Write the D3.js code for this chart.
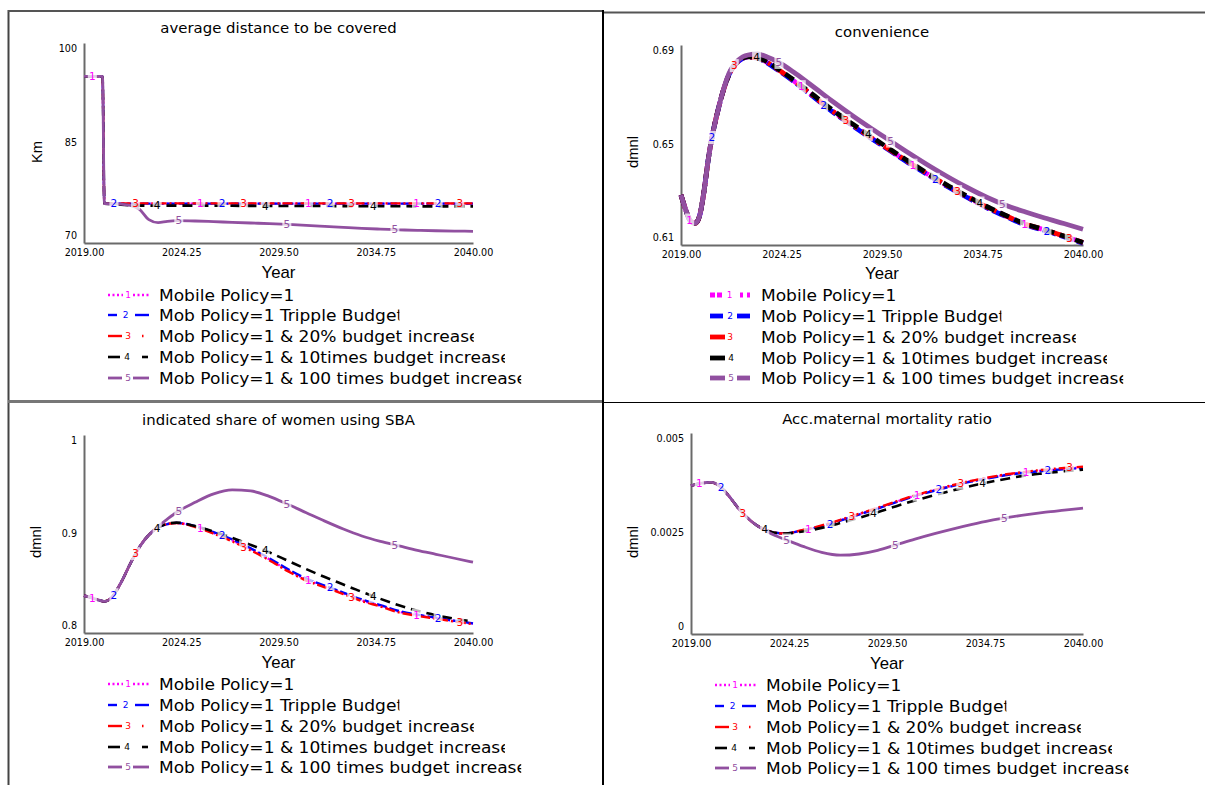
<!DOCTYPE html>
<html>
<head>
<meta charset="utf-8">
<script src="https://cdn.jsdelivr.net/npm/d3@7"></script>
<style>
  html, body { margin: 0; padding: 0; background: #fff; }
  svg { display: block; }
</style>
</head>
<body>
<svg id="chart" width="1205" height="785"></svg>
<script>
// Simulation time points (years)
const years = [2019, 2019.25, 2019.5, 2019.75, 2020, 2020.1, 2020.5, 2021, 2021.5, 2022, 2022.5, 2023, 2023.5, 2024,
  2025, 2026, 2027, 2028, 2029, 2030, 2031, 2032, 2033, 2034, 2035, 2036, 2037, 2038, 2039, 2040];

const seriesNames = [
  "Mobile Policy=1",
  "Mob Policy=1 Tripple Budget",
  "Mob Policy=1 & 20% budget increase",
  "Mob Policy=1 & 10times budget increase",
  "Mob Policy=1 & 100 times budget increase"
];
const seriesColors = ["#ff00ff", "#0000ff", "#ff0000", "#000000", "#9150a0"];

const xTicks = [2019, 2024.25, 2029.5, 2034.75, 2040];

// average distance to be covered (Km)
const distanceTicks = [70, 85, 100];
const distance1 = [95, 95, 95, 95, 95, 75.9, 75.9, 75.9, 75.9, 75.9, 75.9, 75.9, 75.9, 75.9, 75.9, 75.9, 75.9, 75.9, 75.9, 75.9, 75.9, 75.9, 75.9, 75.9, 75.9, 75.9, 75.9, 75.9, 75.9, 75.9];
const distance2 = [95, 95, 95, 95, 95, 75.9, 75.9, 75.9, 75.9, 75.9, 75.9, 75.9, 75.9, 75.9, 75.9, 75.9, 75.9, 75.9, 75.9, 75.9, 75.9, 75.9, 75.9, 75.9, 75.9, 75.9, 75.9, 75.9, 75.9, 75.9];
const distance3 = [95, 95, 95, 95, 95, 75.9, 75.95, 75.95, 75.95, 75.95, 75.95, 75.95, 75.95, 75.95, 75.95, 75.95, 75.95, 75.95, 75.95, 75.95, 75.95, 75.95, 75.95, 75.95, 75.95, 75.95, 75.95, 75.95, 75.95, 75.95];
const distance4 = [95, 95, 95, 95, 95, 75.9, 75.85, 75.75, 75.65, 75.6, 75.6, 75.6, 75.6, 75.6, 75.6, 75.59, 75.58, 75.57, 75.56, 75.55, 75.55, 75.54, 75.53, 75.52, 75.52, 75.51, 75.5, 75.5, 75.5, 75.5];
const distance5 = [95, 95, 95, 95, 95, 75.9, 75.88, 75.82, 75.65, 75.05, 73.5, 73.05, 73.25, 73.35, 73.3, 73.2, 73.1, 73.0, 72.9, 72.78, 72.65, 72.5, 72.35, 72.2, 72.08, 71.98, 71.9, 71.84, 71.79, 71.75];

// convenience (dmnl)
const convenienceTicks = [0.61, 0.65, 0.69];
const convenience1 = [0.6300, 0.6240, 0.6195, 0.6187, 0.6225, 0.6265, 0.6480, 0.6660, 0.6780, 0.6835, 0.6852, 0.6848, 0.6830, 0.6805, 0.6750, 0.6690, 0.6630, 0.6577, 0.6525, 0.6475, 0.6425, 0.6378, 0.6332, 0.6290, 0.6250, 0.6215, 0.6182, 0.6160, 0.6135, 0.6109];
const convenience2 = [0.6300, 0.6240, 0.6195, 0.6187, 0.6225, 0.6265, 0.6480, 0.6660, 0.6780, 0.6835, 0.6852, 0.6847, 0.6828, 0.6803, 0.6748, 0.6688, 0.6628, 0.6575, 0.6523, 0.6473, 0.6423, 0.6376, 0.6330, 0.6288, 0.6248, 0.6213, 0.6180, 0.6158, 0.6133, 0.6107];
const convenience3 = [0.6300, 0.6240, 0.6195, 0.6187, 0.6225, 0.6265, 0.6480, 0.6660, 0.6780, 0.6835, 0.6852, 0.6848, 0.6831, 0.6806, 0.6751, 0.6691, 0.6631, 0.6578, 0.6526, 0.6476, 0.6426, 0.6379, 0.6333, 0.6291, 0.6251, 0.6216, 0.6183, 0.6161, 0.6136, 0.6110];
const convenience4 = [0.6300, 0.6240, 0.6195, 0.6187, 0.6225, 0.6265, 0.6480, 0.6660, 0.6780, 0.6835, 0.6853, 0.6850, 0.6833, 0.6808, 0.6754, 0.6695, 0.6635, 0.6582, 0.6530, 0.6479, 0.6429, 0.6381, 0.6335, 0.6293, 0.6253, 0.6217, 0.6184, 0.6161, 0.6136, 0.6110];
const convenience5 = [0.6300, 0.6240, 0.6195, 0.6187, 0.6225, 0.6265, 0.6480, 0.6660, 0.6785, 0.6840, 0.6860, 0.6864, 0.6852, 0.6835, 0.6785, 0.6728, 0.6670, 0.6615, 0.6563, 0.6513, 0.6463, 0.6415, 0.6370, 0.6328, 0.6290, 0.6258, 0.6232, 0.6208, 0.6186, 0.6163];

// indicated share of women using SBA (dmnl)
const sbaTicks = [0.8, 0.9, 1];
const sba1 = [0.8376, 0.8365, 0.8350, 0.8335, 0.8322, 0.8319, 0.8360, 0.8510, 0.8700, 0.8870, 0.8990, 0.9065, 0.9100, 0.9112, 0.9075, 0.9010, 0.8935, 0.8845, 0.8745, 0.8635, 0.8540, 0.8470, 0.8400, 0.8330, 0.8275, 0.8215, 0.8180, 0.8150, 0.8120, 0.8094];
const sba2 = [0.8376, 0.8365, 0.8350, 0.8335, 0.8322, 0.8319, 0.8360, 0.8510, 0.8700, 0.8870, 0.8990, 0.9065, 0.9100, 0.9112, 0.9080, 0.9018, 0.8945, 0.8855, 0.8755, 0.8645, 0.8550, 0.8478, 0.8408, 0.8338, 0.8282, 0.8222, 0.8185, 0.8155, 0.8124, 0.8097];
const sba3 = [0.8376, 0.8365, 0.8350, 0.8335, 0.8322, 0.8319, 0.8360, 0.8510, 0.8700, 0.8870, 0.8990, 0.9065, 0.9100, 0.9110, 0.9070, 0.9003, 0.8925, 0.8835, 0.8735, 0.8625, 0.8530, 0.8462, 0.8393, 0.8323, 0.8268, 0.8208, 0.8173, 0.8145, 0.8115, 0.8090];
const sba4 = [0.8376, 0.8365, 0.8350, 0.8335, 0.8322, 0.8319, 0.8360, 0.8510, 0.8700, 0.8870, 0.8990, 0.9065, 0.9102, 0.9115, 0.9080, 0.9025, 0.8960, 0.8890, 0.8815, 0.8730, 0.8645, 0.8565, 0.8490, 0.8415, 0.8345, 0.8280, 0.8225, 0.8180, 0.8145, 0.8115];
const sba5 = [0.8376, 0.8365, 0.8350, 0.8335, 0.8322, 0.8319, 0.8360, 0.8510, 0.8700, 0.8870, 0.8990, 0.9075, 0.9150, 0.9220, 0.9320, 0.9405, 0.9445, 0.9435, 0.9380, 0.9300, 0.9215, 0.9130, 0.9050, 0.8980, 0.8925, 0.8880, 0.8835, 0.8795, 0.8755, 0.8716];

// Acc.maternal mortality ratio (dmnl)
const mortalityTicks = [0, 0.0025, 0.005];
const mortality1 = [0.00369, 0.00372, 0.00375, 0.00376, 0.00377, 0.00377, 0.00369, 0.00345, 0.00315, 0.00290, 0.00271, 0.00259, 0.00252, 0.00250, 0.00258, 0.00269, 0.00283, 0.00298, 0.00313, 0.00329, 0.00344, 0.00357, 0.00369, 0.00380, 0.00389, 0.00397, 0.00403, 0.00407, 0.00411, 0.00414];
const mortality2 = [0.00369, 0.00372, 0.00375, 0.00376, 0.00377, 0.00377, 0.00369, 0.00345, 0.00315, 0.00290, 0.00271, 0.00259, 0.00252, 0.00250, 0.00258, 0.00268, 0.00282, 0.00297, 0.00312, 0.00328, 0.00343, 0.00356, 0.00368, 0.00379, 0.00388, 0.00396, 0.00402, 0.00406, 0.00410, 0.00413];
const mortality3 = [0.00369, 0.00372, 0.00375, 0.00376, 0.00377, 0.00377, 0.00369, 0.00345, 0.00315, 0.00290, 0.00271, 0.00259, 0.00252, 0.00250, 0.00259, 0.00270, 0.00284, 0.00299, 0.00314, 0.00330, 0.00345, 0.00358, 0.00370, 0.00381, 0.00390, 0.00398, 0.00404, 0.00409, 0.00413, 0.00416];
const mortality4 = [0.00369, 0.00372, 0.00375, 0.00376, 0.00377, 0.00377, 0.00369, 0.00345, 0.00315, 0.00290, 0.00271, 0.00259, 0.00252, 0.00250, 0.00255, 0.00264, 0.00276, 0.00289, 0.00303, 0.00318, 0.00332, 0.00345, 0.00357, 0.00368, 0.00378, 0.00387, 0.00395, 0.00400, 0.00405, 0.00409];
const mortality5 = [0.00369, 0.00372, 0.00375, 0.00376, 0.00377, 0.00377, 0.00369, 0.00345, 0.00315, 0.00290, 0.00271, 0.00257, 0.00245, 0.00236, 0.00218, 0.00203, 0.00196, 0.00199, 0.00208, 0.00222, 0.00236, 0.00249, 0.00261, 0.00272, 0.00282, 0.00290, 0.00297, 0.00303, 0.00308, 0.00313];

const panels = [
  { title: "average distance to be covered", unit: "Km", ticks: distanceTicks,
    series: [distance1, distance2, distance3, distance4, distance5] },
  { title: "convenience", unit: "dmnl", ticks: convenienceTicks,
    series: [convenience1, convenience2, convenience3, convenience4, convenience5] },
  { title: "indicated share of women using SBA", unit: "dmnl", ticks: sbaTicks,
    series: [sba1, sba2, sba3, sba4, sba5] },
  { title: "Acc.maternal mortality ratio", unit: "dmnl", ticks: mortalityTicks,
    series: [mortality1, mortality2, mortality3, mortality4, mortality5] }
];

// Geometry of each quadrant
const layout = [
  { x0: 84, x1: 473, y0: 43, y1: 243, titleY: 28, yearY: 272, unitX: 36, unitY: 152,
    legendX: 108, legendTextX: 159, legendY: [295, 315, 336, 357, 378], style: "thin" },
  { x0: 681, x1: 1083, y0: 45, y1: 245, titleY: 32, yearY: 273, unitX: 632, unitY: 152,
    legendX: 710, legendTextX: 761, legendY: [295, 316, 337, 358, 378], style: "thick" },
  { x0: 84, x1: 473, y0: 435, y1: 633, titleY: 420, yearY: 662, unitX: 35, unitY: 542,
    legendX: 108, legendTextX: 159, legendY: [684, 705, 726, 747, 767], style: "thin" },
  { x0: 691, x1: 1083, y0: 433, y1: 634, titleY: 419, yearY: 663, unitX: 632, unitY: 542,
    legendX: 715, legendTextX: 766, legendY: [685, 706, 727, 748, 768], style: "thin" }
];

const lineStyles = {
  thin: {
    width: [2.4, 2.4, 2.4, 2.6, 2.8],
    dash: ["2,2", "10,3", "10,3,2,3", "10,6", null],
    legend: [
      { L: [0, 15], R: [25, 41], d: 20 },
      { L: [0, 9], R: [27, 41], d: 17.5 },
      { L: [0, 14], R: [34, 35.5], d: 20 },
      { L: [0, 12], R: [34, 40], d: 19 },
      { L: [0, 14], R: [25, 41], d: 20 }
    ]
  },
  thick: {
    width: [4.8, 4.8, 4.8, 4.8, 4.8],
    dash: ["4,3", "14,4", "14,5,3,5", "10,6", null],
    legend: [
      { L: [0, 12], R: [30, 40], d: 19.5, rdash: "3,4" },
      { L: [0, 13], R: [27, 40], d: 20 },
      { L: [0, 15], R: null, d: 20 },
      { L: [0, 15], R: null, d: 21 },
      { L: [0, 15], R: [27, 40], d: 21 }
    ]
  }
};

const FONT = "DejaVu Sans";
const AXIS_FONT = "Liberation Sans";

const svg = d3.select("#chart");

// Quadrant frame
function drawFrame() {
  const f = svg.append("g").attr("fill", "none");
  f.append("line").attr("x1", 8.5).attr("y1", 10).attr("x2", 8.5).attr("y2", 785).attr("stroke", "#444").attr("stroke-width", 2);
  f.append("line").attr("x1", 8).attr("y1", 11).attr("x2", 603).attr("y2", 11).attr("stroke", "#555").attr("stroke-width", 2);
  f.append("line").attr("x1", 603).attr("y1", 12.5).attr("x2", 1205).attr("y2", 12.5).attr("stroke", "#555").attr("stroke-width", 2);
  f.append("line").attr("x1", 8).attr("y1", 401.5).attr("x2", 603).attr("y2", 401.5).attr("stroke", "#777").attr("stroke-width", 3);
  f.append("line").attr("x1", 603).attr("y1", 402.5).attr("x2", 1205).attr("y2", 402.5).attr("stroke", "#000").attr("stroke-width", 1);
  f.append("line").attr("x1", 603).attr("y1", 10).attr("x2", 603).attr("y2", 785).attr("stroke", "#000").attr("stroke-width", 2);
}

// Point on a rendered path at a given screen x
function pointAtX(node, px) {
  let lo = 0, hi = node.getTotalLength();
  for (let i = 0; i < 40; i++) {
    const mid = (lo + hi) / 2;
    if (node.getPointAtLength(mid).x < px) lo = mid; else hi = mid;
  }
  return node.getPointAtLength((lo + hi) / 2);
}

function drawPanel(p, L) {
  const st = lineStyles[L.style];
  const g = svg.append("g");
  const x = d3.scaleLinear().domain([2019, 2040]).range([L.x0, L.x1]);
  const y = d3.scaleLinear().domain([p.ticks[0], p.ticks[2]]).range([L.y1, L.y0]);

  // title
  g.append("text")
    .attr("transform", `translate(${(L.x0 + L.x1) / 2},${L.titleY}) scale(1.05,1)`)
    .attr("text-anchor", "middle").attr("dy", "0.36em")
    .attr("font-family", FONT).attr("font-size", 14.2).attr("fill", "#000")
    .text(p.title);

  // axes
  const ax = g.append("g").attr("transform", `translate(0,${L.y1})`)
    .call(d3.axisBottom(x).tickValues(xTicks).tickFormat(d3.format(".2f"))
      .tickSize(0).tickSizeOuter(0).tickPadding(6.5));
  const ay = g.append("g").attr("transform", `translate(${L.x0},0)`)
    .call(d3.axisLeft(y).tickValues(p.ticks).tickFormat(d3.format("~g"))
      .tickSize(0).tickSizeOuter(0).tickPadding(7));
  ay.selectAll(".tick text").attr("y", (d, i) => i === 0 ? -7.5 : i === 2 ? 5 : -1);
  [ax, ay].forEach(a => {
    a.attr("font-family", FONT).attr("font-size", 9.6);
    a.select(".domain").attr("stroke", "#6a6a6a").attr("stroke-width", 2);
    a.selectAll(".tick text").attr("fill", "#000");
  });

  // axis titles
  g.append("text")
    .attr("transform", `translate(${(L.x0 + L.x1) / 2},${L.yearY}) scale(1.05,1)`)
    .attr("text-anchor", "middle").attr("dy", "0.36em")
    .attr("font-family", AXIS_FONT).attr("font-size", 16).attr("fill", "#000")
    .text("Year");
  g.append("text")
    .attr("transform", `translate(${L.unitX},${L.unitY}) rotate(-90) scale(1,1.05)`)
    .attr("text-anchor", "middle").attr("dy", "0.36em")
    .attr("font-family", AXIS_FONT).attr("font-size", 14.8).attr("fill", "#000")
    .text(p.unit);

  // series lines
  const line = d3.line()
    .x((d, i) => x(years[i]))
    .y(d => y(d))
    .curve(d3.curveMonotoneX);
  const paths = p.series.map((s, k) =>
    g.append("path").datum(s)
      .attr("d", line)
      .attr("fill", "none")
      .attr("stroke", seriesColors[k])
      .attr("stroke-width", st.width[k])
      .attr("stroke-dasharray", st.dash[k])
      .attr("stroke-linejoin", "round")
      .node());

  // numbered markers along the lines
  const nMarks = 18;
  for (let k = 0; k < nMarks; k++) {
    const t = 2019.45 + k * 21 / 18;
    const si = k % 5;
    const pt = pointAtX(paths[si], x(t));
    const mg = g.append("g").attr("transform", `translate(${pt.x},${pt.y})`);
    mg.append("rect").attr("x", -4.5).attr("y", -6.5).attr("width", 9).attr("height", 13)
      .attr("fill", "#fff").attr("fill-opacity", 0.72);
    mg.append("text").attr("text-anchor", "middle").attr("dy", "0.36em")
      .attr("font-family", FONT).attr("font-size", 10.5)
      .attr("fill", seriesColors[si]).text(si + 1);
  }

  // legend
  seriesNames.forEach((name, k) => {
    const ly = L.legendY[k];
    const spec = st.legend[k];
    const lg = g.append("g");
    const seg = (a, b, dash) => lg.append("line")
      .attr("x1", L.legendX + a).attr("x2", L.legendX + b)
      .attr("y1", ly).attr("y2", ly)
      .attr("stroke", seriesColors[k]).attr("stroke-width", st.width[k])
      .attr("stroke-dasharray", dash);
    const dotted = k === 0 ? (L.style === "thick" ? "5,2" : "2,2.5") : null;
    seg(spec.L[0], spec.L[1], dotted);
    if (spec.R) seg(spec.R[0], spec.R[1], spec.rdash || dotted);
    lg.append("text").attr("x", L.legendX + spec.d).attr("y", ly).attr("dy", "0.36em")
      .attr("text-anchor", "middle").attr("font-family", FONT).attr("font-size", 9)
      .attr("fill", seriesColors[k]).text(k + 1);

    const txt = lg.append("text")
      .attr("transform", `translate(${L.legendTextX},${ly}) scale(1.1,1)`)
      .attr("dy", "0.36em")
      .attr("font-family", FONT).attr("font-size", 15.5).attr("fill", "#000")
      .text(name);
    if (k > 0) {
      // long entries are cut through their final character
      const node = txt.node();
      const n = name.length;
      const head = node.getSubStringLength(0, n - 1);
      const last = node.getSubStringLength(n - 1, 1);
      const id = `clip-${L.x0}-${L.y0}-${k}`;
      svg.append("clipPath").attr("id", id).attr("clipPathUnits", "userSpaceOnUse")
        .append("rect").attr("x", -2).attr("y", -20).attr("width", head + 0.45 * last + 2).attr("height", 40);
      txt.attr("clip-path", `url(#${id})`);
    }
  });
}

drawFrame();
panels.forEach((p, i) => drawPanel(p, layout[i]));
</script>
</body>
</html>
